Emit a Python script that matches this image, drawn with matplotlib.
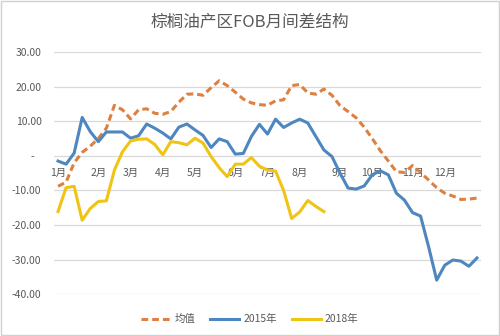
import matplotlib
matplotlib.use("Agg")
import matplotlib.pyplot as plt
import numpy as np
from matplotlib.patches import Rectangle

plt.rcParams['font.family'] = ['Noto Sans CJK SC', 'DejaVu Sans']

# weekly spread, one value per week of the year
month_labels = ['1月', '2月', '3月', '4月', '5月', '6月', '7月', '8月', '9月', '10月', '11月', '12月']
month_weeks = [0, 5, 9, 13, 17, 22, 26, 30, 35, 39, 44, 48]

avg_vals = [-8.8, -7.6, -2.0, 1.0, 2.8, 5.0, 8.0, 14.6, 13.3, 10.7, 13.3, 13.6,
            12.3, 12.0, 12.8, 15.5, 17.8, 17.9, 17.5, 19.7, 21.7, 20.3, 18.4, 16.4,
            15.3, 14.8, 14.6, 15.9, 16.2, 20.3, 20.6, 18.2, 17.8, 19.3, 17.5, 14.5,
            12.8, 11.0, 8.3, 5.0, 1.5, -1.5, -4.6, -4.8, -2.8, -4.8, -7.0, -9.2,
            -10.8, -11.6, -12.6, -12.5, -12.2]

y2015 = [-1.5, -2.4, 0.8, 11.1, 7.0, 4.1, 6.9, 6.9, 6.9, 5.1, 5.8, 9.2,
         8.0, 6.6, 4.9, 8.3, 9.2, 7.5, 5.9, 2.4, 4.9, 4.1, 0.5, 0.7, 5.6,
         9.1, 6.3, 10.6, 8.2, 9.5, 10.6, 9.5, 5.6, 1.7, -0.2, -5.0, -9.3,
         -9.6, -8.7, -5.5, -4.3, -5.5, -10.8, -12.8, -16.4, -17.4, -26.3,
         -35.9, -31.6, -30.1, -30.4, -31.9, -29.5]

y2018 = [-16.1, -9.2, -8.8, -18.6, -15.2, -13.2, -13.0, -4.1, 1.2, 4.3, 4.8, 4.9,
         3.3, 0.3, 4.1, 3.8, 3.2, 5.1, 3.7, -0.2, -3.4, -6.0, -2.4, -2.4,
         -0.5, -3.0, -4.1, -4.4, -10.0, -18.1, -16.2, -12.9, -14.6, -16.1]

weeks = np.arange(len(avg_vals))
grey = '#595959'

fig = plt.figure(figsize=(5, 3.36), dpi=100)
ax = fig.add_axes([0.108, 0.1241, 0.854, 0.7211])

ax.plot(weeks, avg_vals, color='#dd8040', lw=2.2, linestyle=(0, (2.2, 1.3)),
        label='均值', zorder=3)
ax.plot(weeks, y2015, color='#4e86bf', lw=2.2, label='2015年', zorder=3)
ax.plot(weeks[:len(y2018)], y2018, color='#f0c414', lw=2.2, label='2018年', zorder=3)

ax.set_xlim(-0.5, len(weeks) - 0.5)
ax.set_ylim(-40, 30)
yticks = list(range(-40, 31, 10))
ax.set_yticks(yticks)
ax.set_yticklabels(['-   ' if v == 0 else '%.2f' % v for v in yticks])
ax.yaxis.grid(True, color='#d9d9d9', lw=0.9)
ax.set_axisbelow(True)

ax.spines['bottom'].set_position(('data', 0))
for s in ax.spines.values():
    s.set_visible(False)
ax.set_xticks(month_weeks)
ax.set_xticklabels(month_labels)
ax.tick_params(axis='both', length=0, labelsize=7.5, labelcolor=grey)
ax.tick_params(axis='x', pad=9)
ax.tick_params(axis='y', pad=9)

fig.text(0.5, 1 - 22 / 336, '棕榈油产区FOB月间差结构', ha='center', va='center',
         fontsize=12, color=grey)

fig.legend(loc='center', bbox_to_anchor=(0.5, 0.05), ncol=3, frameon=False,
           fontsize=7.5, handlelength=2.8, handletextpad=0.4, columnspacing=1.4,
           labelcolor=grey)

fig.add_artist(Rectangle((0.001, 0.0015), 0.997, 0.996, transform=fig.transFigure,
                         fill=False, ec='#d0d0d0', lw=1))

fig.savefig('out.png', dpi=100)
